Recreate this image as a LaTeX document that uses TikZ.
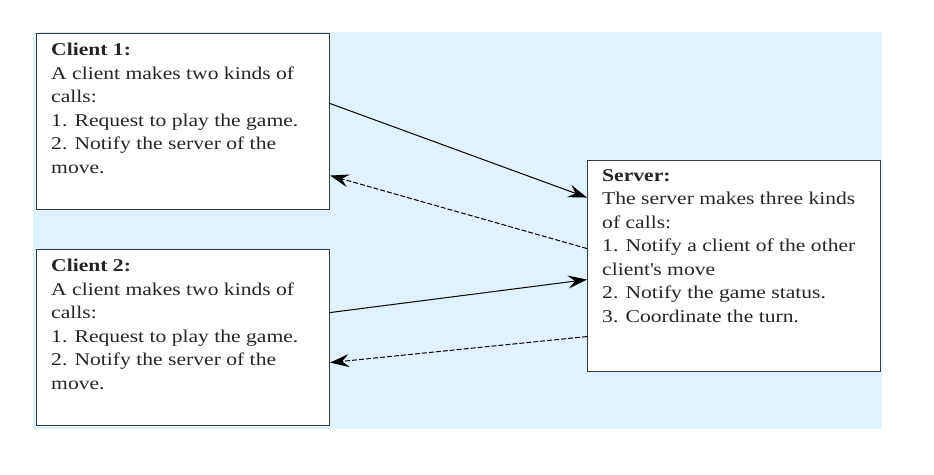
\documentclass[tikz,border=0pt]{standalone}
\usepackage{fontspec}
\setmainfont{Liberation Serif}[FakeStretch=1.2]
\usepackage{tikz}
\usetikzlibrary{arrows.meta, positioning}
\definecolor{panelblue}{HTML}{E0F2FD}
\definecolor{edgegray}{HTML}{3A3A3A}

\begin{document}
\begin{tikzpicture}[
  x=1pt, y=-1pt,
  callbox/.style={draw=edgegray, fill=white, line width=1.1pt, inner sep=0pt, anchor=north west},
  calltext/.style={anchor=north west, inner sep=0pt, align=left, text=black!85, font=\fontsize{18}{23.5}\selectfont},
  request/.style={-{Stealth[length=19pt, width=13pt, inset=7pt]}, line width=1pt, draw=black},
  reply/.style={request, dash pattern=on 5pt off 2pt}
]
  \useasboundingbox (0,0) rectangle (934,474);
  % Background panel
  \fill[panelblue] (33,32) rectangle (882,429);

  % Client boxes
  \node[callbox, minimum width=293pt, minimum height=176pt] (client1) at (36,33) {};
  \node[calltext] (c1text) at ([xshift=15pt, yshift=-10pt]client1.north west)
    {\textbf{Client 1:}\\A client makes two kinds of\\calls:\\1. Request to play the game.\\2. Notify the server of the\\move.};

  \node[callbox, minimum width=293pt, minimum height=176pt] (client2) at (36,249) {};
  \node[calltext] (c2text) at ([xshift=15pt, yshift=-10pt]client2.north west)
    {\textbf{Client 2:}\\A client makes two kinds of\\calls:\\1. Request to play the game.\\2. Notify the server of the\\move.};

  % Server box
  \node[callbox, minimum width=293pt, minimum height=211pt] (server) at (587,160) {};
  \node[calltext] (stext) at ([xshift=15pt, yshift=-9pt]server.north west)
    {\textbf{Server:}\\The server makes three kinds\\of calls:\\1. Notify a client of the other\\client\textquotesingle s move\\2. Notify the game status.\\3. Coordinate the turn.};

  % Calls between clients and server
  \draw[request] ([yshift=18pt]client1.east) -- ([yshift=68.5pt]server.west);
  \draw[reply] ([yshift=17.5pt]server.west) -- ([yshift=-54pt]client1.east);
  \draw[request] ([yshift=25pt]client2.east) -- ([yshift=-13.5pt]server.west);
  \draw[reply] ([yshift=-70.5pt]server.west) -- ([yshift=-25pt]client2.east);
\end{tikzpicture}
\end{document}
